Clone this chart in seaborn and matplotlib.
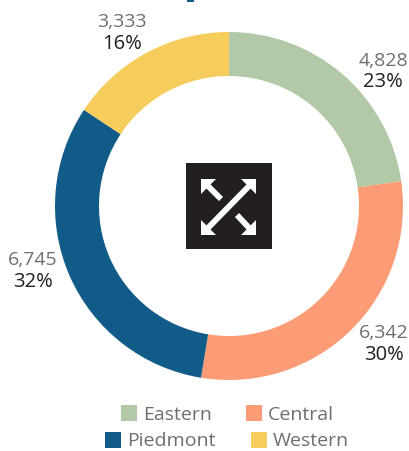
import matplotlib
matplotlib.use('Agg')
import matplotlib.pyplot as plt
import seaborn as sns
from matplotlib.patches import Polygon, Rectangle

sns.set_theme(style="white")
plt.rcParams['font.family'] = ['Open Sans', 'DejaVu Sans']

regions = ['Eastern', 'Central', 'Piedmont', 'Western']
counts = [4828, 6342, 6745, 3333]
shares = ['23%', '30%', '32%', '16%']
colors = ['#B2C9A7', '#FC9C76', '#115B88', '#F6CD5C']

W, H = 409, 451

fig = plt.figure(figsize=(W / 100, H / 100), dpi=100)
ax = fig.add_axes([0, 0, 1, 1])
ax.set_xlim(0, W)
ax.set_ylim(H, 0)
ax.axis('off')

# pie needs a normal y axis, so it gets its own axes on the same pixel grid
pie_ax = fig.add_axes([0, 0, 1, 1], zorder=0)
ax.set_zorder(1)
pie_ax.pie(counts, colors=colors, startangle=90, counterclock=False,
           center=(229, H - 206), radius=174, frame=True,
           wedgeprops=dict(width=44, linewidth=0))
pie_ax.set_xlim(0, W)
pie_ax.set_ylim(0, H)
pie_ax.axis('off')

# the title is cropped away in the reference, only this sliver of a letter is left
ax.add_patch(Rectangle((187, 0), 7, 2, color='#115B88', lw=0))

# value labels
label_pos = [(383, 61, 82), (384, 333, 355), (33, 260, 282), (122, 22, 44)]
for n, pct, (x, y1, y2) in zip(counts, shares, label_pos):
    ax.text(x, y1, f'{n:,}', ha='center', va='center', fontsize=14, color='#6d6e71')
    ax.text(x, y2, pct, ha='center', va='center', fontsize=14.5, color='#231f20')

# shuffle icon in the middle
ax.add_patch(Rectangle((186, 163), 86, 86, color='#231F20', lw=0))


def head(x, y, dx, dy):
    # square corner arrow head with its tip at x, y
    leg = 15
    ax.add_patch(Polygon([(x, y), (x + dx * leg, y), (x, y + dy * leg)], color='white', lw=0))


def shaft(x0, y0, x1, y1):
    ax.plot([x0, x1], [y0, y1], color='white', lw=4.2, solid_capstyle='butt')


shaft(205, 231, 252, 183)
head(256, 179, -1, 1)
head(201, 235, 1, -1)
shaft(205, 183, 221, 199)
head(201, 179, 1, 1)
shaft(237, 215, 252, 231)
head(256, 235, -1, -1)

# legend, placed by hand because the two rows do not line up
legend_pos = [(121, 405), (246, 405), (105, 432), (251, 432)]
for name, c, (x, y) in zip(regions, colors, legend_pos):
    ax.add_patch(Rectangle((x, y), 16, 16, color=c, lw=0))
    ax.text(x + 22, y + 9.5, name, ha='left', va='center', fontsize=14, color='#6d6e71')

fig.savefig('out.png', dpi=100)
